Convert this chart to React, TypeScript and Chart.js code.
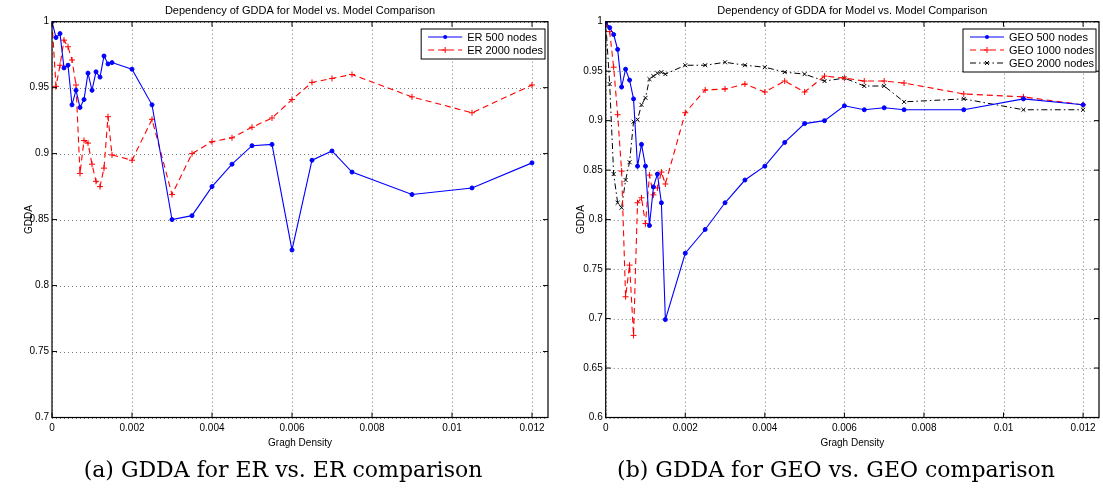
import React, { useEffect, useRef } from "react";
import { Chart, registerables } from "chart.js";

Chart.register(...registerables);

// ---------- data ----------
const densities = [
  0, 0.0001, 0.0002, 0.0003, 0.0004, 0.0005, 0.0006, 0.0007, 0.0008, 0.0009,
  0.001, 0.0011, 0.0012, 0.0013, 0.0014, 0.0015, 0.002, 0.0025, 0.003, 0.0035,
  0.004, 0.0045, 0.005, 0.0055, 0.006, 0.0065, 0.007, 0.0075, 0.009, 0.0105, 0.012,
];

const er500 = [
  1.0, 0.988, 0.991, 0.965, 0.967, 0.937, 0.948, 0.935, 0.941, 0.961,
  0.948, 0.962, 0.958, 0.974, 0.968, 0.969, 0.964, 0.937, 0.85, 0.853,
  0.875, 0.892, 0.906, 0.907, 0.827, 0.895, 0.902, 0.886, 0.869, 0.874, 0.893,
];

const er2000 = [
  1.0, 0.951, 0.967, 0.986, 0.981, 0.971, 0.952, 0.885, 0.91, 0.908,
  0.892, 0.879, 0.875, 0.889, 0.928, 0.899, 0.895, 0.926, 0.869, 0.9,
  0.909, 0.912, 0.92, 0.927, 0.941, 0.954, 0.957, 0.96, 0.943, 0.931, 0.952,
];

const geo500 = [
  1.0, 0.994, 0.987, 0.972, 0.934, 0.952, 0.941, 0.922, 0.854, 0.876,
  0.854, 0.794, 0.833, 0.846, 0.817, 0.699, 0.766, 0.79, 0.817, 0.84,
  0.854, 0.878, 0.897, 0.9, 0.915, 0.911, 0.913, 0.911, 0.911, 0.922, 0.916,
];

const geo1000 = [
  1.0, 0.99, 0.954, 0.906, 0.849, 0.722, 0.754, 0.683, 0.817, 0.822,
  0.796, 0.845, 0.825, 0.832, 0.848, 0.836, 0.908, 0.931, 0.932, 0.937,
  0.929, 0.94, 0.929, 0.945, 0.943, 0.94, 0.94, 0.938, 0.927, 0.924, 0.916,
];

const geo2000 = [
  1.0, 0.937, 0.846, 0.817, 0.812, 0.84, 0.858, 0.899, 0.901, 0.916,
  0.923, 0.942, 0.945, 0.948, 0.949, 0.947, 0.956, 0.956, 0.959, 0.956,
  0.954, 0.949, 0.947, 0.94, 0.943, 0.935, 0.935, 0.919, 0.922, 0.911, 0.911,
];

const xTickValues = [0, 0.002, 0.004, 0.006, 0.008, 0.01, 0.012];
const xTickLabels = ["0", "0.002", "0.004", "0.006", "0.008", "0.01", "0.012"];
const erYTickValues = [0.7, 0.75, 0.8, 0.85, 0.9, 0.95, 1];
const erYTickLabels = ["0.7", "0.75", "0.8", "0.85", "0.9", "0.95", "1"];
const geoYTickValues = [0.6, 0.65, 0.7, 0.75, 0.8, 0.85, 0.9, 0.95, 1];
const geoYTickLabels = ["0.6", "0.65", "0.7", "0.75", "0.8", "0.85", "0.9", "0.95", "1"];

const chartTitle = "Dependency of GDDA for Model vs. Model Comparison";
const xAxisTitle = "Gragh Density";
const yAxisTitle = "GDDA";
const captionA = "(a) GDDA for ER vs. ER comparison";
const captionB = "(b) GDDA for GEO vs. GEO comparison";

const X_MAX = 0.0124;
const SANS = '"Liberation Sans", Arial, sans-serif';

// ---------- styles ----------
type SeriesStyle = {
  label: string;
  values: number[];
  color: string;
  dash: number[];
  marker: "circle" | "cross" | "crossRot";
  radius: number;
  width: number;
};

const erSeries: SeriesStyle[] = [
  { label: "ER 500 nodes", values: er500, color: "#0000ff", dash: [], marker: "circle", radius: 2, width: 1.1 },
  { label: "ER 2000 nodes", values: er2000, color: "#ff0000", dash: [6, 4], marker: "cross", radius: 3, width: 1.1 },
];

const geoSeries: SeriesStyle[] = [
  { label: "GEO 500 nodes", values: geo500, color: "#0000ff", dash: [], marker: "circle", radius: 2, width: 1.1 },
  { label: "GEO 1000 nodes", values: geo1000, color: "#ff0000", dash: [6, 4], marker: "cross", radius: 3, width: 1.1 },
  { label: "GEO 2000 nodes", values: geo2000, color: "#000000", dash: [6, 3, 1.5, 3], marker: "crossRot", radius: 2.8, width: 1 },
];

function drawMarker(ctx: CanvasRenderingContext2D, kind: string, x: number, y: number, r: number, color: string) {
  ctx.save();
  ctx.setLineDash([]);
  ctx.strokeStyle = color;
  ctx.fillStyle = color;
  ctx.lineWidth = 1;
  ctx.beginPath();
  if (kind === "circle") {
    ctx.arc(x, y, r, 0, Math.PI * 2);
    ctx.fill();
  } else if (kind === "cross") {
    ctx.moveTo(x - r, y);
    ctx.lineTo(x + r, y);
    ctx.moveTo(x, y - r);
    ctx.lineTo(x, y + r);
    ctx.stroke();
  } else {
    const d = r * 0.707;
    ctx.moveTo(x - d, y - d);
    ctx.lineTo(x + d, y + d);
    ctx.moveTo(x - d, y + d);
    ctx.lineTo(x + d, y - d);
    ctx.stroke();
  }
  ctx.restore();
}

const decorPlugin = {
  id: "matlabDecor",
  beforeDatasetsDraw(chart: any) {
    const { ctx, chartArea: a } = chart;
    const xs = chart.scales.x;
    const ys = chart.scales.y;
    ctx.save();
    ctx.strokeStyle = "#7a7a7a";
    ctx.lineWidth = 1;
    ctx.setLineDash([1, 3]);
    ctx.beginPath();
    for (const t of xs.ticks) {
      const px = Math.round(xs.getPixelForValue(t.value)) + 0.5;
      ctx.moveTo(px, a.top);
      ctx.lineTo(px, a.bottom);
    }
    for (const t of ys.ticks) {
      const py = Math.round(ys.getPixelForValue(t.value)) + 0.5;
      ctx.moveTo(a.left, py);
      ctx.lineTo(a.right, py);
    }
    ctx.stroke();
    ctx.restore();
  },
  afterDraw(chart: any) {
    const { ctx, chartArea: a } = chart;
    const xs = chart.scales.x;
    const ys = chart.scales.y;
    const series: SeriesStyle[] = chart.options.plugins.matlabDecor.series;
    ctx.save();
    // frame
    ctx.setLineDash([]);
    ctx.strokeStyle = "#000";
    ctx.lineWidth = 1.2;
    ctx.strokeRect(a.left, a.top, a.right - a.left, a.bottom - a.top);
    // inner ticks
    ctx.lineWidth = 1;
    ctx.beginPath();
    for (const t of xs.ticks) {
      const px = xs.getPixelForValue(t.value);
      ctx.moveTo(px, a.bottom);
      ctx.lineTo(px, a.bottom - 5);
      ctx.moveTo(px, a.top);
      ctx.lineTo(px, a.top + 5);
    }
    for (const t of ys.ticks) {
      const py = ys.getPixelForValue(t.value);
      ctx.moveTo(a.left, py);
      ctx.lineTo(a.left + 5, py);
      ctx.moveTo(a.right, py);
      ctx.lineTo(a.right - 5, py);
    }
    ctx.stroke();
    // title
    ctx.fillStyle = "#000";
    ctx.font = `11px ${SANS}`;
    ctx.textAlign = "center";
    ctx.textBaseline = "middle";
    ctx.fillText(chartTitle, (a.left + a.right) / 2, 11);
    // legend
    ctx.font = `11px ${SANS}`;
    let maxW = 0;
    for (const s of series) maxW = Math.max(maxW, ctx.measureText(s.label).width);
    const boxW = 46 + maxW + 2;
    const rowH = 13;
    const boxH = rowH * series.length + 4;
    const bx = a.right - 3 - boxW;
    const by = a.top + 7.3;
    ctx.fillStyle = "#fff";
    ctx.fillRect(bx, by, boxW, boxH);
    ctx.strokeStyle = "#000";
    ctx.lineWidth = 1;
    ctx.strokeRect(bx, by, boxW, boxH);
    series.forEach((s, i) => {
      const cy = by + 8 + i * rowH;
      ctx.save();
      ctx.strokeStyle = s.color;
      ctx.lineWidth = s.width;
      ctx.setLineDash(s.dash);
      ctx.beginPath();
      ctx.moveTo(bx + 7, cy);
      ctx.lineTo(bx + 41, cy);
      ctx.stroke();
      ctx.restore();
      drawMarker(ctx, s.marker, bx + 24, cy, s.radius, s.color);
      ctx.fillStyle = "#000";
      ctx.textAlign = "left";
      ctx.textBaseline = "middle";
      ctx.fillText(s.label, bx + 46, cy + 0.5);
    });
    ctx.restore();
  },
};

type PanelProps = {
  left: number;
  width: number;
  yWidth: number;
  padRight: number;
  yMin: number;
  yMax: number;
  yTicks: number[];
  yLabels: string[];
  series: SeriesStyle[];
};

function Panel(props: PanelProps) {
  const ref = useRef<HTMLCanvasElement | null>(null);
  useEffect(() => {
    if (!ref.current) return;
    const datasets = props.series.map((s) => ({
      label: s.label,
      data: densities.map((d, i) => ({ x: d, y: s.values[i] })),
      borderColor: s.color,
      backgroundColor: s.color,
      borderWidth: s.width,
      borderDash: s.dash,
      pointStyle: s.marker,
      pointRadius: s.radius,
      pointBorderWidth: 1,
      pointBorderColor: s.color,
      pointBackgroundColor: s.color,
      pointHoverRadius: s.radius,
      tension: 0,
      fill: false,
    }));
    const chart = new Chart(ref.current, {
      type: "line",
      data: { datasets },
      plugins: [decorPlugin],
      options: {
        animation: false,
        responsive: false,
        maintainAspectRatio: false,
        events: [],
        layout: { padding: { top: 21.7, right: props.padRight, bottom: 0, left: 0 } },
        plugins: {
          legend: { display: false },
          title: { display: false },
          tooltip: { enabled: false },
          matlabDecor: { series: props.series },
        } as any,
        scales: {
          x: {
            type: "linear",
            min: 0,
            max: X_MAX,
            afterBuildTicks: (s: any) => {
              s.ticks = xTickValues.map((v) => ({ value: v }));
            },
            afterFit: (s: any) => {
              s.height = 42.5;
            },
            ticks: {
              autoSkip: false,
              maxRotation: 0,
              minRotation: 0,
              padding: 5,
              color: "#000",
              font: { family: SANS, size: 10 },
              callback: (_v: any, i: number) => xTickLabels[i],
            },
            grid: { display: false, drawTicks: false },
            border: { display: false },
            title: {
              display: true,
              text: xAxisTitle,
              color: "#000",
              font: { family: SANS, size: 10 },
              padding: { top: 0, bottom: 10.3 },
            },
          },
          y: {
            type: "linear",
            min: props.yMin,
            max: props.yMax,
            afterBuildTicks: (s: any) => {
              s.ticks = props.yTicks.map((v) => ({ value: v }));
            },
            afterFit: (s: any) => {
              s.width = props.yWidth;
            },
            ticks: {
              autoSkip: false,
              padding: 3,
              color: "#000",
              font: { family: SANS, size: 10 },
              callback: (_v: any, i: number) => props.yLabels[i],
            },
            grid: { display: false, drawTicks: false },
            border: { display: false },
            title: {
              display: true,
              text: yAxisTitle,
              color: "#000",
              font: { family: SANS, size: 10 },
              padding: { top: 23, bottom: 0 },
            },
          },
        },
      } as any,
    });
    return () => chart.destroy();
  }, []);
  return (
    <canvas
      ref={ref}
      width={props.width}
      height={460}
      style={{ position: "absolute", left: props.left, top: 0, width: props.width, height: 460, display: "block" }}
    />
  );
}

const captionStyle = (center: number): React.CSSProperties => ({
  position: "absolute",
  left: center - 300,
  width: 600,
  top: 457,
  textAlign: "center",
  fontFamily: '"DejaVu Serif", "Liberation Serif", serif',
  fontSize: 22,
  lineHeight: "26px",
  color: "#000",
  whiteSpace: "nowrap",
});

export default function App() {
  return (
    <div
      style={{
        position: "fixed",
        left: 0,
        top: 0,
        width: 1103,
        height: 488,
        background: "#fff",
        overflow: "hidden",
      }}
    >
      <Panel
        left={0}
        width={552}
        yWidth={52}
        padRight={4}
        yMin={0.7}
        yMax={1}
        yTicks={erYTickValues}
        yLabels={erYTickLabels}
        series={erSeries}
      />
      <Panel
        left={552}
        width={551}
        yWidth={53.7}
        padRight={1.3}
        yMin={0.6}
        yMax={1}
        yTicks={geoYTickValues}
        yLabels={geoYTickLabels}
        series={geoSeries}
      />
      <div style={captionStyle(283)}>{captionA}</div>
      <div style={captionStyle(836)}>{captionB}</div>
    </div>
  );
}
